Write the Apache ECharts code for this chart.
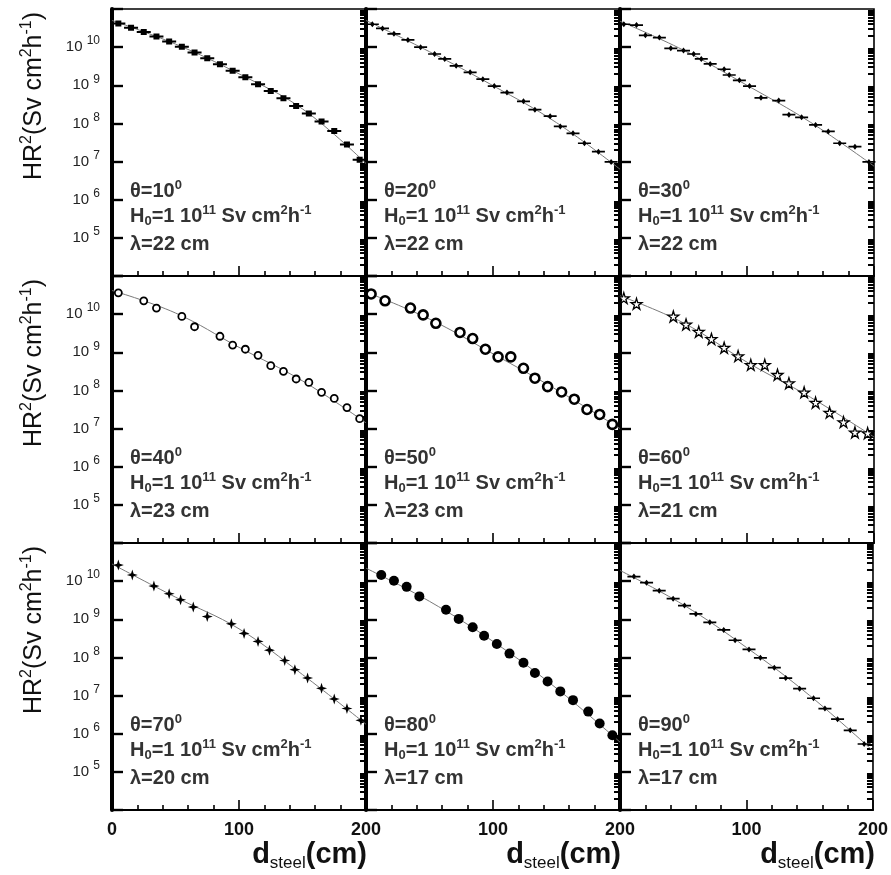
<!DOCTYPE html>
<html>
<head>
<meta charset="UTF-8">
<title>HR2 vs steel thickness</title>
<script src="https://cdn.jsdelivr.net/npm/echarts@6.0.0/dist/echarts.min.js"></script>
<style>
    body { margin: 0; background: #fff; }
    #chart { width: 891px; height: 875px; }
</style>
</head>
<body>
<div id="chart"></div>
<script>
// panel parameters
const thetaDeg = [10, 20, 30, 40, 50, 60, 70, 80, 90];
const lambdaCm = [22, 22, 22, 23, 23, 21, 20, 17, 17];
const yLabelExp = [5, 6, 7, 8, 9, 10];

// measured points: steel thickness (cm) and log10(HR2)
const d1 = [5, 15, 25, 35, 45, 55, 65, 75, 85, 95, 105, 115, 125, 135, 145, 155, 165, 175, 185, 195];
const h1 = [10.62, 10.51, 10.40, 10.28, 10.15, 10.01, 9.86, 9.71, 9.55, 9.38, 9.21, 9.03, 8.85, 8.66, 8.46, 8.26, 8.05, 7.80, 7.45, 7.05];
const d2 = [5, 13, 22, 33, 43, 54, 62, 71, 82, 92, 101, 111, 124, 133, 145, 153, 163, 172, 183, 193];
const h2 = [10.60, 10.49, 10.35, 10.19, 10.00, 9.82, 9.69, 9.51, 9.34, 9.16, 8.98, 8.81, 8.58, 8.36, 8.19, 7.92, 7.74, 7.48, 7.26, 6.99];
const d3 = [3, 13, 20, 31, 40, 50, 58, 64, 71, 82, 86, 94, 102, 111, 125, 133, 143, 154, 164, 173, 185, 196];
const h3 = [10.60, 10.58, 10.31, 10.25, 9.97, 9.91, 9.82, 9.69, 9.56, 9.42, 9.27, 9.13, 8.98, 8.67, 8.60, 8.23, 8.16, 7.96, 7.79, 7.48, 7.39, 6.99];
const d4 = [5, 25, 35, 55, 65, 85, 95, 105, 115, 125, 135, 145, 155, 165, 175, 185, 195];
const h4 = [10.56, 10.35, 10.16, 9.94, 9.67, 9.42, 9.19, 9.08, 8.92, 8.65, 8.50, 8.30, 8.21, 7.95, 7.79, 7.55, 7.26];
const d5 = [4, 15, 35, 45, 55, 74, 84, 94, 104, 114, 124, 133, 143, 154, 164, 174, 184, 194];
const h5 = [10.53, 10.35, 10.16, 9.98, 9.76, 9.52, 9.36, 9.08, 8.88, 8.88, 8.58, 8.32, 8.10, 7.96, 7.77, 7.50, 7.37, 7.11];
const d6 = [3, 13, 42, 52, 62, 72, 82, 93, 103, 114, 124, 133, 145, 154, 165, 176, 185, 195];
const h6 = [10.42, 10.27, 9.94, 9.73, 9.54, 9.35, 9.12, 8.90, 8.67, 8.67, 8.41, 8.19, 7.95, 7.68, 7.42, 7.17, 6.90, 6.88];
const d7 = [5, 16, 33, 45, 54, 64, 75, 94, 104, 115, 124, 136, 144, 154, 165, 175, 185, 196];
const h7 = [10.42, 10.16, 9.87, 9.67, 9.51, 9.32, 9.07, 8.88, 8.63, 8.42, 8.19, 7.92, 7.68, 7.46, 7.19, 6.91, 6.66, 6.35];
const d8 = [12, 22, 32, 42, 63, 73, 84, 93, 103, 113, 124, 133, 143, 153, 163, 175, 184, 194];
const h8 = [10.16, 10.01, 9.85, 9.60, 9.25, 9.01, 8.79, 8.57, 8.35, 8.10, 7.86, 7.59, 7.37, 7.11, 6.88, 6.58, 6.27, 5.96];
const d9 = [11, 21, 31, 42, 51, 60, 71, 82, 91, 102, 111, 122, 131, 142, 153, 162, 172, 182, 193];
const h9 = [10.12, 9.96, 9.75, 9.54, 9.36, 9.14, 8.92, 8.72, 8.45, 8.21, 7.99, 7.73, 7.46, 7.18, 6.93, 6.66, 6.38, 6.09, 5.73];

// fitted curves
const fitD = [0, 50, 100, 150, 200];
const f1 = [10.70, 10.08, 9.30, 8.38, 6.95];
const f2 = [10.70, 9.88, 8.99, 8.02, 6.80];
const f3 = [10.68, 9.92, 9.00, 8.03, 6.88];
const f4 = [10.62, 10.03, 9.13, 8.25, 7.15];
const f5 = [10.58, 9.87, 8.96, 8.02, 7.00];
const f6 = [10.48, 9.77, 8.74, 7.82, 6.78];
const f7 = [10.45, 9.58, 8.75, 7.55, 6.25];
const f8 = [10.34, 9.47, 8.42, 7.19, 5.78];
const f9 = [10.28, 9.38, 8.26, 7.00, 5.55];

const pointsD = [d1, d2, d3, d4, d5, d6, d7, d8, d9];
const pointsH = [h1, h2, h3, h4, h5, h6, h7, h8, h9];
const fitsH = [f1, f2, f3, f4, f5, f6, f7, f8, f9];

const chart = echarts.init(document.getElementById('chart'));
const FONT = '"Liberation Sans", Arial, Helvetica, sans-serif';

const colLeft = [112, 366, 620];
const rowTop = [9, 276, 543];
const panelW = 254, panelH = 267;

// marker look for each panel
const barX = 'path://M0,4 L16,4 L16,6 L0,6 Z M8,1.5 L11,5 L8,8.5 L5,5 Z';
const barDot = 'path://M0,4 L4,4 L4,2 L10,2 L10,4 L14,4 L14,6 L10,6 L10,8 L4,8 L4,6 L0,6 Z';
const star5 = 'path://M50,0 L61,35 L98,35 L68,57 L79,91 L50,70 L21,91 L32,57 L2,35 L39,35 Z';
const star4 = 'path://M50,0 L62,38 L100,50 L62,62 L50,100 L38,62 L0,50 L38,38 Z';
const markers = [
    { symbol: barDot, size: [14, 6], fill: '#000', border: 0 },
    { symbol: barX, size: [13, 6], fill: '#000', border: 0 },
    { symbol: barX, size: [13, 6], fill: '#000', border: 0 },
    { symbol: 'circle', size: 7, fill: '#fff', border: 1.8 },
    { symbol: 'circle', size: 9, fill: '#fff', border: 2.6 },
    { symbol: star5, size: 11, fill: '#fff', border: 1.3 },
    { symbol: star4, size: 11, fill: '#000', border: 0 },
    { symbol: 'circle', size: 10, fill: '#000', border: 0 },
    { symbol: barX, size: [13, 6], fill: '#000', border: 0 }
];

const minorY = [];
for (let e = 4; e < 11; e++) {
    for (let m = 2; m <= 9; m++) minorY.push(m * Math.pow(10, e));
}
const majorY = [1e4, 1e5, 1e6, 1e7, 1e8, 1e9, 1e10, 1e11];

const grids = [], xAxes = [], yAxes = [], series = [], graphics = [];

for (let i = 0; i < 9; i++) {
    const r = Math.floor(i / 3), c = i % 3;
    grids.push({
        left: colLeft[c], top: rowTop[r], width: panelW, height: panelH,
        show: true, borderColor: '#000', borderWidth: 1.6
    });
    xAxes.push({
        type: 'value', gridIndex: i, min: 0, max: 200, interval: 100,
        axisLine: { show: true, lineStyle: { color: '#000', width: 2 } },
        axisTick: { inside: true, length: 10, lineStyle: { color: '#000', width: 1.6 } },
        minorTick: { show: true, splitNumber: 5, length: 5, lineStyle: { color: '#000', width: 1.6 } },
        splitLine: { show: false },
        axisLabel: {
            show: r === 2, margin: 11, color: '#111',
            fontFamily: FONT, fontSize: 18, fontWeight: 'bold',
            formatter: v => (v === 0 && c > 0) ? '' : String(v)
        }
    });
    yAxes.push({
        type: 'log', gridIndex: i, min: 1e4, max: 1e11, logBase: 10,
        axisLine: { show: true, lineStyle: { color: '#000', width: 4 } },
        axisTick: { inside: true, length: 11, customValues: majorY, lineStyle: { color: '#000', width: 2.4 } },
        splitLine: { show: false },
        axisLabel: {
            show: c === 0, margin: 12, customValues: yLabelExp.map(e => Math.pow(10, e)),
            formatter: v => '{b|10 }{s|' + Math.round(Math.log10(v)) + '}',
            rich: {
                b: { fontFamily: FONT, fontSize: 15, color: '#222' },
                s: { fontFamily: FONT, fontSize: 12, color: '#222', padding: [0, 0, 12, 0] }
            }
        }
    });
    yAxes.push({
        type: 'log', gridIndex: i, min: 1e4, max: 1e11, logBase: 10,
        axisLine: { show: false },
        axisTick: { inside: true, length: 6, customValues: minorY, lineStyle: { color: '#000', width: 2 } },
        splitLine: { show: false },
        axisLabel: { show: false }
    });

    const mk = markers[i];
    series.push({
        type: 'line', xAxisIndex: i, yAxisIndex: 2 * i, smooth: 0.4,
        symbol: 'none', silent: true, z: 1,
        lineStyle: { color: '#7a7a7a', width: 1 },
        data: fitD.map((d, k) => [d, Math.pow(10, fitsH[i][k])])
    });
    series.push({
        type: 'scatter', xAxisIndex: i, yAxisIndex: 2 * i, z: 3,
        symbol: mk.symbol, symbolSize: mk.size,
        itemStyle: { color: mk.fill, borderColor: '#000', borderWidth: mk.border, opacity: 1 },
        data: pointsD[i].map((d, k) => [d, Math.pow(10, pointsH[i][k])])
    });

    // annotation block in the panel
    const tx = colLeft[c] + 18, ty = rowTop[r];
    const ann = {
        t: { fill: '#333', fontFamily: FONT, fontSize: 20, fontWeight: 'bold' },
        sup: { fill: '#333', fontFamily: FONT, fontSize: 13, fontWeight: 'bold', padding: [0, 0, 11, 0] },
        sub: { fill: '#333', fontFamily: FONT, fontSize: 13, fontWeight: 'bold', padding: [11, 0, 0, 0] }
    };
    graphics.push({
        type: 'text', x: tx, y: ty + 182, z: 10,
        style: { text: '{t|θ=' + thetaDeg[i] + '}{sup|0}', rich: ann, align: 'left', verticalAlign: 'middle' }
    });
    graphics.push({
        type: 'text', x: tx, y: ty + 207, z: 10,
        style: { text: '{t|H}{sub|0}{t|=1 10}{sup|11}{t| Sv cm}{sup|2}{t|h}{sup|-1}', rich: ann, align: 'left', verticalAlign: 'middle' }
    });
    graphics.push({
        type: 'text', x: tx, y: ty + 235, z: 10,
        style: { text: '{t|λ=' + lambdaCm[i] + ' cm}', rich: ann, align: 'left', verticalAlign: 'middle' }
    });
}

// y titles
for (let r = 0; r < 3; r++) {
    graphics.push({
        type: 'text', x: 34, y: rowTop[r] + 87, rotation: Math.PI / 2,
        style: {
            text: '{a|HR}{p|2}{a|(Sv cm}{p|2}{a|h}{p|-1}{a|)}',
            align: 'center', verticalAlign: 'middle',
            rich: {
                a: { fill: '#111', fontFamily: FONT, fontSize: 25 },
                p: { fill: '#111', fontFamily: FONT, fontSize: 16, padding: [0, 0, 14, 0] }
            }
        }
    });
}
// x titles
for (let c = 0; c < 3; c++) {
    graphics.push({
        type: 'text', x: colLeft[c] + panelW + 1, y: 855,
        style: {
            text: '{d|d}{s|steel}{d|(cm)}',
            align: 'right', verticalAlign: 'middle',
            rich: {
                d: { fill: '#111', fontFamily: FONT, fontSize: 29, fontWeight: 'bold' },
                s: { fill: '#111', fontFamily: FONT, fontSize: 17, padding: [17, 0, 0, 0] }
            }
        }
    });
}

chart.setOption({
    backgroundColor: '#fff',
    animation: false,
    grid: grids,
    xAxis: xAxes,
    yAxis: yAxes,
    series: series,
    graphic: graphics
});
</script>
</body>
</html>
